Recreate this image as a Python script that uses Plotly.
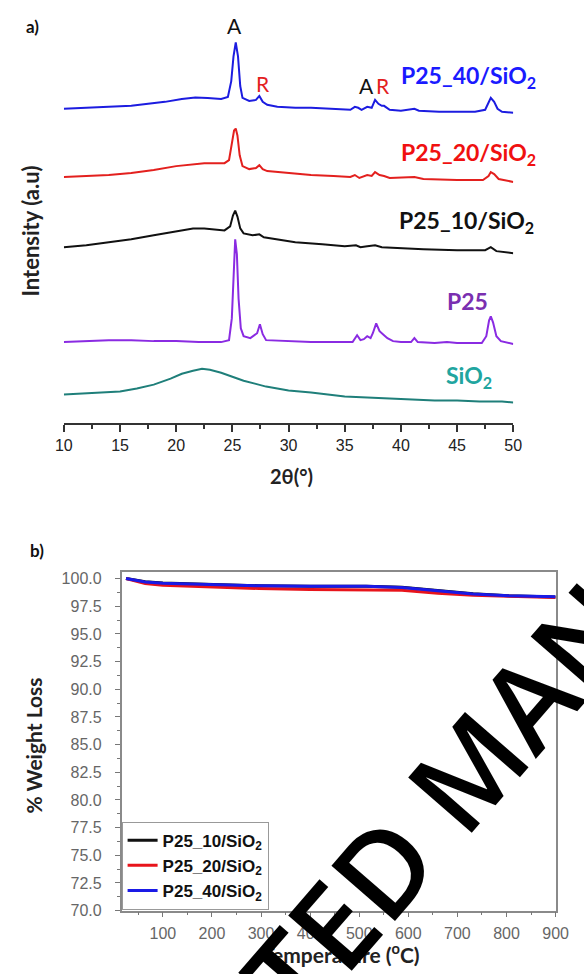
import plotly.graph_objects as go

# ---------------- Panel a: XRD (stacked, arbitrary units) ----------------
blue_x = [10, 12, 14, 16, 17.5, 19, 20.5, 21.7, 22.8, 24, 24.6, 24.9, 25.1, 25.3, 25.5, 25.7, 25.9, 26.5, 27.1, 27.4, 27.7, 28.1, 29, 30.6, 32, 33.8, 35.5, 35.9, 36.2, 36.5, 37.0, 37.4, 37.7, 38.0, 38.3, 38.5, 39, 40, 41.2, 41.6, 43.4, 45, 46.6, 47.5, 47.8, 48.0, 48.3, 48.6, 49, 50]
blue_y = [301, 302, 303, 304, 306, 308, 311, 312.5, 312, 311, 313, 329, 354, 368, 354, 324, 312, 309, 310, 314, 308, 305, 303, 302, 302, 301, 300, 303, 302, 300, 303, 302, 310, 306, 304, 304, 300, 299, 301, 299, 298, 298, 298, 300, 307, 312, 308, 301, 298, 297]

red_x = [10, 12, 14, 16, 18, 20, 21.5, 22.5, 23.5, 24.3, 24.7, 24.95, 25.15, 25.3, 25.45, 25.65, 25.9, 26.5, 27.1, 27.4, 27.7, 28.1, 30, 32, 34, 35.5, 35.9, 36.3, 37.0, 37.4, 37.7, 38.1, 38.5, 39, 41.2, 42, 45, 47.3, 47.8, 48.0, 48.3, 48.7, 50]
red_y = [232, 233, 234, 236, 239, 243, 245, 246, 246, 246, 249, 264, 279, 281, 274, 254, 243, 240, 241, 244, 240, 238, 236, 234, 233, 232, 234, 231, 234, 233, 237, 234, 233, 231, 232, 230, 229, 229, 233, 237, 235, 230, 227]

black_x = [10, 12, 14, 16, 18, 20, 21.5, 22.5, 23.5, 24.3, 24.8, 25.05, 25.25, 25.45, 25.7, 26, 26.8, 27.4, 27.8, 29, 30.6, 33, 35, 36, 36.4, 37.0, 37.7, 38.3, 40, 42, 45, 47.5, 48.0, 48.5, 50]
black_y = [161, 163, 166, 169, 173, 177, 180, 180, 179, 178, 182, 193, 198, 192, 180, 175, 173, 174, 171, 169, 166, 164, 162, 163, 161, 162, 163, 161, 160, 159, 158, 158, 161, 157, 155]

p25_x = [10, 12, 14, 16, 18, 20, 22, 24, 24.7, 24.95, 25.1, 25.25, 25.4, 25.55, 25.75, 26.0, 26.6, 27.2, 27.45, 27.7, 28.0, 30, 32, 34, 35.7, 36.1, 36.4, 36.7, 37.0, 37.3, 37.5, 37.8, 38.1, 38.5, 38.8, 39.3, 40, 40.9, 41.2, 41.5, 43, 44.1, 45, 47.2, 47.6, 47.85, 48.0, 48.2, 48.5, 48.9, 50]
p25_y = [65, 66, 67, 67, 66, 66, 65, 65, 67, 89, 139, 169, 154, 109, 79, 71, 69, 74, 83, 73, 67, 66, 65, 65, 65, 72, 67, 68, 71, 69, 74, 84, 76, 72, 69, 66, 65, 65, 69, 65, 64, 65, 64, 64, 71, 87, 91, 85, 71, 66, 63]

sio2_x = [10, 12, 14, 15, 16.5, 18, 19.5, 20.5, 21.5, 22.3, 23, 24, 25, 26, 27, 28, 29, 30, 32, 33.5, 35, 37, 39, 41, 43, 45, 47, 49, 50]
sio2_y = [12, 13, 14, 15, 18, 22, 28, 33, 36, 38, 37, 34, 30, 26, 23, 20, 18, 16, 14, 12, 10, 9, 8, 7, 6, 6, 5, 5, 4]

# ---------------- Panel b: TGA ----------------
temp_c = [25, 64, 100, 200, 296, 400, 514, 587, 660, 732, 804, 870, 900]
w_10 = [100.0, 99.72, 99.6, 99.45, 99.35, 99.3, 99.3, 99.22, 98.92, 98.62, 98.45, 98.38, 98.33]
w_20 = [100.0, 99.55, 99.4, 99.22, 99.1, 99.02, 99.0, 98.95, 98.68, 98.5, 98.4, 98.35, 98.3]
w_40 = [100.0, 99.7, 99.58, 99.43, 99.35, 99.3, 99.3, 99.2, 98.9, 98.6, 98.45, 98.4, 98.35]
tga_names = ["P25_10/SiO<sub>2</sub>", "P25_20/SiO<sub>2</sub>", "P25_40/SiO<sub>2</sub>"]

W, H = 584, 974
def px(x):
    return x / W
def py(y):
    return 1 - y / H

CAL = "Lato"
ARIAL = "Liberation Sans, Arial"

fig = go.Figure()
xrd = [
    (sio2_x, sio2_y, "#1f7f7a"),
    (p25_x, p25_y, "#8a2be2"),
    (black_x, black_y, "#111111"),
    (red_x, red_y, "#e3201e"),
    (blue_x, blue_y, "#1c1ce0"),
]
for xs, ys, c in xrd:
    fig.add_trace(go.Scatter(x=xs, y=ys, mode="lines", line=dict(color=c, width=2),
                             xaxis="x", yaxis="y", showlegend=False, hoverinfo="skip"))

tga_cols = ["#111111", "#e8141b", "#1a1ae6"]
for ys, nm, c in zip([w_10, w_20, w_40], tga_names, tga_cols):
    fig.add_trace(go.Scatter(x=temp_c, y=ys, mode="lines", name="<b>" + nm + "</b>",
                             line=dict(color=c, width=3), xaxis="x2", yaxis="y2"))

ann = []
def lab(x, y, t, col, size=23, bold=True, xref="x", yref="y", font=CAL, angle=0):
    ann.append(dict(x=x, y=y, xref=xref, yref=yref, text=("<b>%s</b>" % t) if bold else t,
                    showarrow=False, xanchor="center", yanchor="middle", textangle=angle,
                    font=dict(family=font, size=size, color=col)))

# peak markers
lab(25.2, 385, "A", "#111111", size=21, bold=False)
lab(27.75, 327, "R", "#e3201e", size=21, bold=False)
lab(36.9, 325, "A", "#111111", size=21, bold=False)
lab(38.45, 325, "R", "#e3201e", size=21, bold=False)
# series labels
lab(46.0, 334, "P25_40/SiO<sub>2</sub>", "#1a1aff")
lab(46.0, 256, "P25_20/SiO<sub>2</sub>", "#f01010")
lab(45.8, 187, "P25_10/SiO<sub>2</sub>", "#111111")
lab(45.95, 107, "P25", "#7a2fb0")
lab(46.05, 30, "SiO<sub>2</sub>", "#21a59f")

# panel letters and axis titles
lab(px(24), py(25), "a)", "#111111", size=17, xref="paper", yref="paper")
lab(px(29), py(555), "b)", "#111111", size=17, xref="paper", yref="paper")
lab(px(294), py(479), "2θ(°)", "#222222", size=20, xref="paper", yref="paper")
lab(px(22), py(232), "Intensity (a.u)", "#222222", size=22, xref="paper", yref="paper", angle=-90)
lab(px(25), py(752), "% Weight Loss", "#222222", size=21, xref="paper", yref="paper", angle=-90)
lab(px(345), py(962), "Temperature (<sup>o</sup>C)", "#222222", size=21, xref="paper", yref="paper")

# watermark
ann.append(dict(x=px(486), y=py(764), xref="paper", yref="paper", text="ACCEPTED MANUSCRIPT",
                showarrow=False, xanchor="center", yanchor="middle", textangle=-49,
                font=dict(family="Open Sans", size=118, color="#000000", weight=600)))

fig.update_layout(
    width=W, height=H, margin=dict(l=0, r=0, t=0, b=0),
    paper_bgcolor="white", plot_bgcolor="white",
    annotations=ann,
    xaxis=dict(domain=[px(57), px(524)], range=[10, 50], anchor="y",
               showline=True, linecolor="#333333", linewidth=2,
               ticks="outside", ticklen=7, tickwidth=1.5, tickcolor="#333333",
               dtick=5, tick0=10, showgrid=False, zeroline=False,
               minor=dict(ticks="outside", ticklen=4, dtick=2.5, tickcolor="#333333", tickwidth=1.5),
               tickfont=dict(family=ARIAL, size=16, color="#222222")),
    yaxis=dict(domain=[py(426), py(20)], range=[-17, 389], anchor="x", visible=False),
    xaxis2=dict(domain=[px(117), px(568)], range=[16, 900], anchor="y2",
                showline=True, mirror=True, linecolor="#8a8a8a", linewidth=1.5,
                ticks="outside", ticklen=5, tickcolor="#777777", dtick=100, tick0=0,
                minor=dict(ticks="outside", ticklen=3, dtick=50, tickcolor="#777777"),
                showgrid=False, zeroline=False, ticklabelstandoff=2,
                tickfont=dict(family=ARIAL, size=16, color="#666666")),
    yaxis2=dict(domain=[py(919), py(577)], range=[70, 100.55], anchor="x2",
                showline=True, mirror=True, linecolor="#8a8a8a", linewidth=1.5,
                ticks="outside", ticklen=5, tickcolor="#777777", dtick=2.5, tick0=70,
                tickformat=".1f", ticklabelstandoff=10,
                minor=dict(ticks="outside", ticklen=3, dtick=1.25, tickcolor="#777777"),
                showgrid=False, zeroline=False,
                tickfont=dict(family=ARIAL, size=16, color="#666666")),
    legend=dict(x=px(117), y=py(918), xanchor="left", yanchor="bottom",
                bgcolor="white", bordercolor="#999999", borderwidth=1,
                font=dict(family=ARIAL, size=17, color="#111111"),
                tracegroupgap=0, itemwidth=30),
    showlegend=True,
)

fig.write_html("out.html")
